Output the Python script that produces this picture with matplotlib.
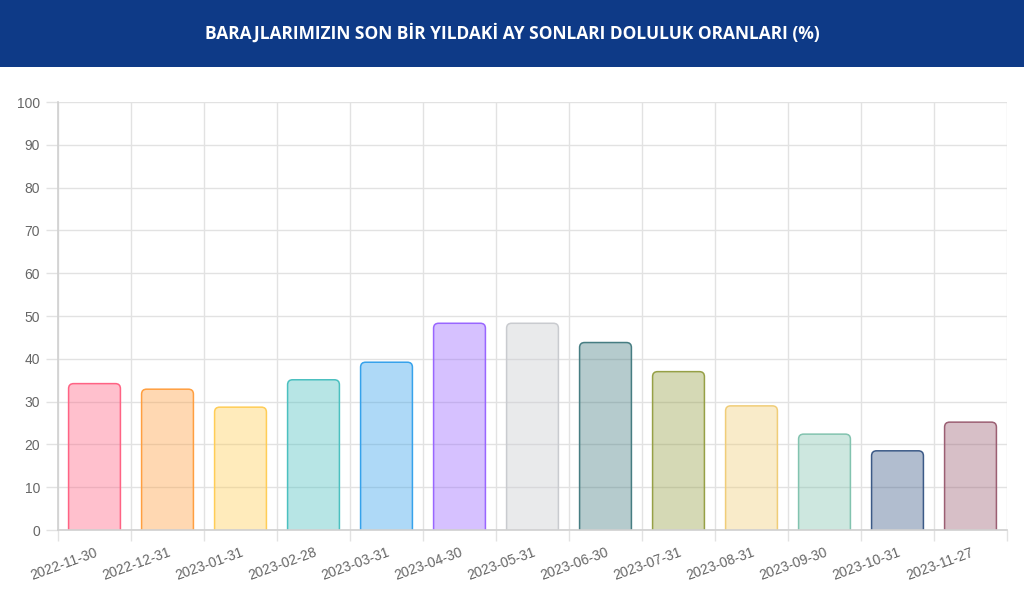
import matplotlib
matplotlib.use("Agg")
import matplotlib.pyplot as plt
from matplotlib.patches import FancyBboxPatch, Rectangle

dates = [
    "2022-11-30", "2022-12-31", "2023-01-31", "2023-02-28", "2023-03-31",
    "2023-04-30", "2023-05-31", "2023-06-30", "2023-07-31", "2023-08-31",
    "2023-09-30", "2023-10-31", "2023-11-27",
]
fill_rates = [34.2, 32.9, 28.7, 35.1, 39.2, 48.3, 48.3, 43.8, 37.0, 29.0, 22.4, 18.5, 25.2]
border_colors = [
    (255, 99, 132), (255, 159, 64), (255, 205, 86), (75, 192, 192),
    (54, 162, 235), (153, 102, 255), (201, 203, 207), (70, 125, 130),
    (150, 160, 70), (240, 205, 120), (130, 195, 175), (60, 90, 135),
    (155, 95, 115),
]
title = "BARAJLARIMIZIN SON BİR YILDAKİ AY SONLARI DOLULUK ORANLARI (%)"

plt.rcParams["font.family"] = ["Liberation Sans", "DejaVu Sans"]

fig = plt.figure(figsize=(10.24, 6.05), dpi=100)
fig.patch.set_facecolor("white")

# header band
fig.patches.append(Rectangle((0, 1 - 67 / 605), 1, 67 / 605, transform=fig.transFigure,
                             facecolor="#0e3a87", edgecolor="none", zorder=0))
fig.text(0.5, 1 - 33 / 605, title, color="white", fontsize=12.5, fontweight="bold",
         family="Open Sans", ha="center", va="center")

ax = fig.add_axes([58 / 1024, 1 - 530 / 605, 949 / 1024, 428 / 605])
ax.set_xlim(-0.5, len(dates) - 0.5)
ax.set_ylim(0, 100)

grid_color = "#e2e2e2"
ax.set_yticks(range(0, 101, 10))
ax.set_xticks(range(len(dates)))
ax.set_xticks([i - 0.5 for i in range(len(dates) + 1)], minor=True)
ax.set_xticklabels(dates, rotation=20, ha="right", rotation_mode="anchor")
ax.tick_params(axis="x", which="major", length=0, pad=11, labelsize=10, labelcolor="#666666")
ax.tick_params(axis="x", which="minor", length=8, color=grid_color, width=1)
ax.tick_params(axis="y", length=9, color=grid_color, width=1, pad=4,
               labelsize=10, labelcolor="#666666")
ax.grid(True, axis="y", color=grid_color, linewidth=1)
ax.grid(True, axis="x", which="minor", color=grid_color, linewidth=1)
ax.set_axisbelow(True)
for side in ("top", "right"):
    ax.spines[side].set_visible(False)
for side in ("left", "bottom"):
    ax.spines[side].set_color("#d0d0d0")
    ax.spines[side].set_linewidth(1.2)

bars = ax.bar(range(len(dates)), fill_rates, width=0.71)
px_x = 949 / len(dates)
px_y = 428 / 100
radius = 5 / px_x
aspect = px_x / px_y
for bar, rgb in zip(bars, border_colors):
    x, w, h = bar.get_x(), bar.get_width(), bar.get_height()
    bar.remove()
    edge = tuple(c / 255 for c in rgb)
    face = edge + (0.4,)
    patch = FancyBboxPatch((x + radius, -10), w - 2 * radius, h + 10 - radius * aspect,
                           boxstyle=f"round,pad={radius},rounding_size={radius}",
                           mutation_aspect=aspect, facecolor=face, edgecolor=edge,
                           linewidth=1.1, zorder=2)
    ax.add_patch(patch)

fig.savefig("out.png", dpi=100)
